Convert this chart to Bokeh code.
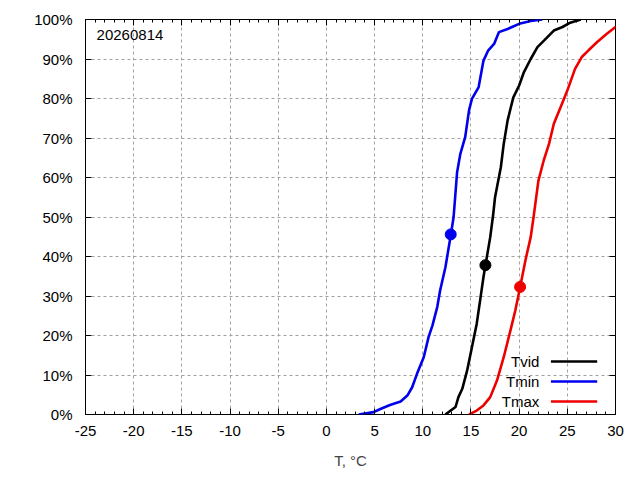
from bokeh.plotting import figure
from bokeh.models import (LinearAxis, SingleIntervalTicker, PrintfTickFormatter,
                          CustomJSTickFormatter, Label, Range1d)
from bokeh.embed import file_html
from bokeh.resources import INLINE
from bokeh.core.properties import value

# --- data ---
tmin_x = [3.35, 4.9, 5.6, 6.6, 7.7, 8.4, 8.9, 9.4, 10.1, 10.6, 11.0, 11.5, 11.8, 12.35, 12.9,
          13.2, 13.56, 13.9, 14.4, 14.8, 15.1, 15.8, 16.3, 16.8, 17.4, 17.9, 18.8, 20.0, 21.2, 22.4]
tmin_y = [0.0, 0.6, 1.4, 2.4, 3.3, 4.8, 6.9, 10.3, 14.5, 19.6, 22.5, 27.2, 31.4, 37.3, 45.3,
          50.0, 61.3, 66.0, 70.2, 77.0, 79.9, 82.9, 89.6, 92.2, 93.8, 96.8, 97.6, 98.9, 99.6, 100.0]

tvid_x = [12.35, 12.9, 13.4, 13.7, 14.1, 14.6, 15.1, 15.6, 16.0, 16.3, 16.5, 17.0, 17.3,
          17.5, 18.1, 18.4, 18.8, 19.1, 19.4, 20.0, 20.5, 21.2, 21.9, 22.6, 23.6, 24.5, 25.3, 26.4]
tvid_y = [0.0, 1.0, 1.9, 4.4, 6.5, 11.1, 17.0, 23.0, 29.7, 34.8, 37.7, 44.9, 50.5,
          55.0, 62.6, 68.5, 74.4, 77.4, 80.3, 83.3, 86.7, 90.0, 93.0, 94.7, 97.2, 98.1, 99.2, 100.0]

tmax_x = [14.8, 15.6, 16.3, 17.0, 17.7, 18.4, 19.1, 19.6, 20.1, 20.65, 21.2, 21.5,
          22.0, 22.55, 23.1, 23.6, 24.3, 25.0, 25.8, 26.5, 27.2, 28.1, 29.1, 30.0, 30.6]
tmax_y = [0.0, 1.0, 2.3, 4.4, 8.6, 14.5, 21.3, 26.3, 32.2, 39.0, 44.9, 50.0,
          59.2, 64.3, 68.5, 73.6, 77.8, 82.0, 87.5, 90.5, 92.2, 94.3, 96.4, 98.1, 99.0]

mark_x = {"Tvid": 16.5, "Tmin": 12.9, "Tmax": 20.1}
mark_y = {"Tvid": 37.8, "Tmin": 45.6, "Tmax": 32.3}

series_names = ["Tvid", "Tmin", "Tmax"]
series_colors = ["black", "#0000ee", "#ee0000"]
x_ticks_start, x_ticks_end = -25, 30
date_label = "20260814"
x_label = "T, °C"

# legend placement (data coordinates)
leg_text_x = 22.1
leg_line_x0, leg_line_x1 = 23.3, 28.1
leg_y = [13.4, 8.35, 3.3]

FONT = "Liberation Sans"
FS = "15px"

p = figure(frame_width=530, frame_height=395,
           min_border_left=85, min_border_right=25, min_border_top=19, min_border_bottom=66,
           x_range=Range1d(x_ticks_start, x_ticks_end), y_range=Range1d(0, 100),
           output_backend="svg", toolbar_location=None,
           x_axis_label=x_label)
p.background_fill_color = "white"
p.border_fill_color = "white"
p.outline_line_color = "black"
p.outline_line_width = 1

xt = SingleIntervalTicker(interval=5, num_minor_ticks=5)
yt = SingleIntervalTicker(interval=10, num_minor_ticks=2)

for ax in p.xaxis:
    ax.ticker = xt
    ax.formatter = PrintfTickFormatter(format="%d")
for ax in p.yaxis:
    ax.ticker = yt
    ax.formatter = PrintfTickFormatter(format="%d%%")
    ax.minor_tick_line_color = None

for ax in p.xaxis + p.yaxis:
    ax.major_tick_in = 6
    ax.major_tick_out = 0
    ax.minor_tick_in = 3
    ax.minor_tick_out = 0
    ax.axis_line_color = None
    ax.major_label_text_font = FONT
    ax.major_label_text_font_size = FS
    ax.major_label_text_color = "black"
    ax.axis_label_text_font = FONT
    ax.axis_label_text_font_size = FS
    ax.axis_label_text_font_style = "normal"

p.xaxis.major_label_standoff = 11
p.xaxis.axis_label_standoff = 13
p.yaxis.major_label_standoff = 13

# mirrored tick axes (no labels)
blank = CustomJSTickFormatter(code="return ''")
top = LinearAxis(ticker=xt, formatter=blank, major_tick_in=6, major_tick_out=0,
                 minor_tick_in=3, minor_tick_out=0, axis_line_color=None, major_label_standoff=0)
right = LinearAxis(ticker=yt, formatter=blank, major_tick_in=6, major_tick_out=0,
                   minor_tick_line_color=None, axis_line_color=None, major_label_standoff=0)
p.add_layout(top, "above")
p.add_layout(right, "right")

for g in (p.xgrid, p.ygrid):
    g.grid_line_color = "#a0a0a0"
    g.grid_line_dash = "3 3"
    g.grid_line_width = 1

data = {"Tvid": (tvid_x, tvid_y), "Tmin": (tmin_x, tmin_y), "Tmax": (tmax_x, tmax_y)}
for name, col in zip(series_names, series_colors):
    xs, ys = data[name]
    p.line(xs, ys, line_color=col, line_width=2.6)
for name, col in zip(series_names, series_colors):
    p.scatter([mark_x[name]], [mark_y[name]], size=11, fill_color=col, line_color=col)

# legend (gnuplot style: text then line sample)
p.text(x=[leg_text_x] * 3, y=leg_y, text=series_names, text_align="right",
       text_baseline="middle", text_font=value(FONT), text_font_size=FS, text_color="black")
p.segment(x0=[leg_line_x0] * 3, y0=leg_y, x1=[leg_line_x1] * 3, y1=leg_y,
          line_color=series_colors, line_width=2.6)

p.add_layout(Label(x=-23.85, y=96.0, text=date_label, text_baseline="middle",
                   text_font=FONT, text_font_size=FS, text_color="black"))

open("out.html", "w").write(file_html(p, INLINE))
